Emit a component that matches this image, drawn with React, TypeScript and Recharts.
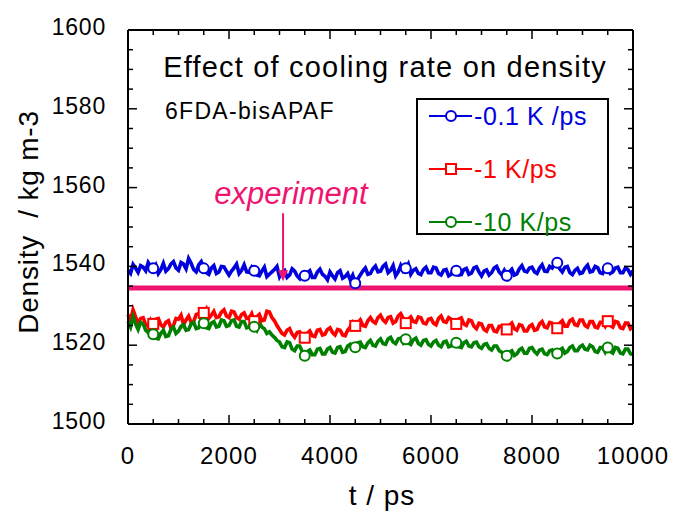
import { LineChart, Line, XAxis, YAxis, ReferenceLine, Legend, Customized } from "recharts";

const FONT = "'Liberation Sans', Arial, Helvetica, sans-serif";
const BLUE = "#0000dd";
const RED = "#ff0000";
const GREEN = "#008000";
const PINK = "#ef1470";

// t / ps, sampled every 50 ps
const TIME = [
	0, 50, 100, 150, 200, 250, 300, 350, 400, 450, 500, 550, 600, 650, 700, 750, 800, 850, 900, 950,
	1000, 1050, 1100, 1150, 1200, 1250, 1300, 1350, 1400, 1450, 1500, 1550, 1600, 1650, 1700, 1750, 1800, 1850, 1900, 1950,
	2000, 2050, 2100, 2150, 2200, 2250, 2300, 2350, 2400, 2450, 2500, 2550, 2600, 2650, 2700, 2750, 2800, 2850, 2900, 2950,
	3000, 3050, 3100, 3150, 3200, 3250, 3300, 3350, 3400, 3450, 3500, 3550, 3600, 3650, 3700, 3750, 3800, 3850, 3900, 3950,
	4000, 4050, 4100, 4150, 4200, 4250, 4300, 4350, 4400, 4450, 4500, 4550, 4600, 4650, 4700, 4750, 4800, 4850, 4900, 4950,
	5000, 5050, 5100, 5150, 5200, 5250, 5300, 5350, 5400, 5450, 5500, 5550, 5600, 5650, 5700, 5750, 5800, 5850, 5900, 5950,
	6000, 6050, 6100, 6150, 6200, 6250, 6300, 6350, 6400, 6450, 6500, 6550, 6600, 6650, 6700, 6750, 6800, 6850, 6900, 6950,
	7000, 7050, 7100, 7150, 7200, 7250, 7300, 7350, 7400, 7450, 7500, 7550, 7600, 7650, 7700, 7750, 7800, 7850, 7900, 7950,
	8000, 8050, 8100, 8150, 8200, 8250, 8300, 8350, 8400, 8450, 8500, 8550, 8600, 8650, 8700, 8750, 8800, 8850, 8900, 8950,
	9000, 9050, 9100, 9150, 9200, 9250, 9300, 9350, 9400, 9450, 9500, 9550, 9600, 9650, 9700, 9750, 9800, 9850, 9900, 9950,
	10000,
];

// -0.1 K/ps
const RATE_01 = [
	1539.0, 1538.2, 1540.5, 1539.6, 1538.5, 1540.2, 1539.8, 1538.9, 1541.0, 1540.0,
	1539.5, 1540.4, 1538.2, 1539.2, 1540.8, 1538.8, 1539.4, 1540.6, 1541.2, 1539.6,
	1539.0, 1541.0, 1540.6, 1539.4, 1542.0, 1540.8, 1539.2, 1538.6, 1540.4, 1541.2,
	1539.5, 1538.4, 1538.0, 1539.6, 1540.2, 1538.2, 1538.6, 1540.0, 1539.9, 1538.8,
	1537.8, 1538.8, 1539.6, 1540.6, 1538.2, 1539.0, 1540.4, 1538.6, 1538.5, 1539.8,
	1538.9, 1537.8, 1537.6, 1538.8, 1539.8, 1537.4, 1538.0, 1538.6, 1539.2, 1540.0,
	1537.4, 1538.6, 1539.0, 1537.2, 1537.8, 1539.4, 1538.8, 1537.6, 1536.9, 1538.2,
	1537.6, 1538.4, 1538.9, 1537.2, 1537.2, 1538.6, 1539.3, 1538.0, 1537.5, 1536.6,
	1538.6, 1537.6, 1536.8, 1538.4, 1538.9, 1537.0, 1537.4, 1538.2, 1536.6, 1537.8,
	1535.7, 1536.8, 1537.8, 1538.8, 1539.6, 1538.0, 1538.2, 1539.4, 1540.1, 1538.6,
	1538.8, 1540.0, 1540.6, 1538.4, 1539.0, 1540.2, 1537.6, 1538.6, 1540.2, 1538.8,
	1539.5, 1540.6, 1538.0, 1539.0, 1539.4, 1538.2, 1537.9, 1539.2, 1539.8, 1538.4,
	1538.4, 1539.8, 1539.6, 1538.2, 1537.8, 1539.0, 1539.2, 1537.6, 1538.0, 1539.4,
	1538.9, 1537.8, 1537.9, 1539.2, 1539.5, 1538.0, 1538.3, 1539.6, 1539.9, 1538.6,
	1537.6, 1538.8, 1539.1, 1537.8, 1538.4, 1539.6, 1540.0, 1538.6, 1537.9, 1539.0,
	1537.6, 1538.6, 1539.3, 1537.8, 1538.1, 1539.4, 1540.2, 1538.8, 1538.6, 1539.6,
	1539.8, 1538.6, 1538.2, 1539.6, 1540.4, 1538.8, 1538.7, 1540.0, 1539.6, 1540.6,
	1540.9, 1539.4, 1538.6, 1539.8, 1540.0, 1538.4, 1537.9, 1539.0, 1539.5, 1538.2,
	1538.4, 1539.6, 1540.3, 1538.6, 1538.8, 1540.0, 1539.7, 1538.4, 1538.2, 1539.4,
	1539.5, 1538.2, 1538.6, 1539.6, 1539.8, 1538.4, 1538.4, 1539.6, 1539.2, 1538.0,
	1538.9,
];

// -1 K/ps
const RATE_1 = [
	1527.8, 1526.4, 1529.0, 1527.2, 1525.6, 1526.8, 1527.0, 1525.2, 1524.8, 1526.4,
	1525.4, 1526.6, 1526.8, 1525.2, 1524.6, 1525.8, 1526.2, 1524.4, 1525.0, 1526.8,
	1526.6, 1527.6, 1525.2, 1526.4, 1527.4, 1525.8, 1526.0, 1527.8, 1528.0, 1526.6,
	1528.2, 1529.2, 1526.8, 1527.6, 1528.6, 1527.0, 1527.2, 1528.4, 1529.0, 1527.4,
	1527.0, 1528.6, 1528.4, 1527.0, 1526.6, 1527.8, 1528.2, 1526.8, 1526.8, 1528.0,
	1526.1, 1527.2, 1527.8, 1526.2, 1526.4, 1528.6, 1528.4, 1527.0, 1526.2, 1525.0,
	1524.0, 1523.0, 1522.6, 1523.8, 1524.2, 1522.8, 1522.0, 1523.2, 1523.4, 1522.4,
	1521.9, 1523.0, 1523.6, 1522.4, 1522.2, 1523.8, 1524.0, 1522.6, 1522.8, 1524.0,
	1524.4, 1523.2, 1522.6, 1524.0, 1523.8, 1522.6, 1522.4, 1523.8, 1524.6, 1525.8,
	1524.9, 1525.6, 1526.4, 1525.0, 1524.8, 1526.2, 1527.0, 1526.0, 1525.6, 1527.0,
	1527.6, 1526.4, 1525.8, 1527.0, 1527.2, 1525.6, 1526.0, 1527.4, 1528.0, 1526.8,
	1525.6, 1526.6, 1527.2, 1526.0, 1525.8, 1527.2, 1527.0, 1525.6, 1525.4, 1526.6,
	1526.8, 1525.6, 1525.2, 1526.8, 1527.4, 1526.0, 1525.8, 1527.0, 1526.6, 1525.2,
	1525.4, 1526.6, 1526.9, 1525.4, 1525.0, 1526.4, 1526.2, 1524.8, 1524.2, 1525.6,
	1525.4, 1524.0, 1523.6, 1525.0, 1525.0, 1523.6, 1523.4, 1524.8, 1524.8, 1523.4,
	1524.0, 1525.0, 1525.6, 1524.2, 1523.8, 1525.2, 1525.0, 1523.6, 1523.6, 1524.8,
	1525.2, 1523.8, 1524.0, 1525.4, 1526.0, 1524.6, 1524.4, 1525.8, 1525.6, 1524.2,
	1524.3, 1525.6, 1526.2, 1524.8, 1524.8, 1526.2, 1526.6, 1525.2, 1525.0, 1526.4,
	1526.4, 1525.0, 1524.6, 1526.0, 1526.0, 1524.6, 1524.4, 1525.8, 1525.8, 1524.8,
	1526.1, 1525.0, 1524.6, 1526.0, 1525.8, 1524.4, 1524.2, 1525.6, 1525.6, 1524.2,
	1524.8,
];

// -10 K/ps
const RATE_10 = [
	1526.0, 1524.6, 1527.2, 1525.4, 1524.0, 1525.8, 1525.4, 1523.8, 1523.2, 1524.0,
	1522.8, 1521.8, 1521.6, 1523.0, 1523.8, 1522.2, 1522.4, 1524.0, 1524.6, 1523.0,
	1523.6, 1524.8, 1525.2, 1523.8, 1524.0, 1525.4, 1525.8, 1524.2, 1524.4, 1525.8,
	1525.6, 1524.4, 1524.2, 1525.6, 1526.0, 1524.6, 1524.8, 1526.4, 1526.2, 1524.8,
	1525.0, 1526.2, 1526.4, 1524.8, 1524.6, 1526.0, 1526.0, 1524.4, 1524.6, 1525.8,
	1524.7, 1523.8, 1525.8, 1524.6, 1524.2, 1523.0, 1523.4, 1522.6, 1522.0, 1521.2,
	1520.8, 1519.6, 1519.4, 1520.8, 1520.6, 1519.0, 1518.6, 1519.8, 1519.8, 1518.4,
	1517.3, 1518.4, 1518.8, 1517.6, 1517.6, 1519.0, 1519.2, 1517.8, 1517.8, 1519.0,
	1519.4, 1518.2, 1518.0, 1519.4, 1519.6, 1518.2, 1518.4, 1519.8, 1520.2, 1519.0,
	1519.5, 1520.6, 1520.8, 1519.6, 1519.4, 1520.6, 1521.2, 1520.0, 1519.8, 1521.0,
	1521.6, 1520.4, 1520.2, 1521.6, 1522.0, 1520.8, 1520.4, 1521.6, 1521.8, 1520.6,
	1521.5, 1520.6, 1520.2, 1521.4, 1521.8, 1520.4, 1520.0, 1521.2, 1521.4, 1520.2,
	1519.8, 1520.8, 1521.2, 1520.0, 1519.6, 1520.8, 1521.0, 1519.6, 1519.8, 1520.8,
	1520.6, 1519.6, 1519.4, 1520.6, 1521.0, 1519.8, 1519.6, 1520.6, 1520.8, 1519.6,
	1519.2, 1520.2, 1520.4, 1519.2, 1518.8, 1519.8, 1519.8, 1518.6, 1518.2, 1517.6,
	1517.3, 1518.2, 1518.6, 1517.4, 1517.8, 1518.8, 1519.2, 1518.0, 1518.0, 1519.2,
	1519.4, 1518.4, 1517.8, 1518.8, 1519.0, 1517.8, 1517.6, 1518.6, 1518.8, 1517.6,
	1517.9, 1518.8, 1519.2, 1518.0, 1518.4, 1519.4, 1519.8, 1518.6, 1518.6, 1519.6,
	1520.0, 1519.0, 1518.8, 1520.0, 1519.6, 1518.4, 1518.2, 1519.4, 1519.4, 1518.2,
	1519.4, 1518.4, 1518.0, 1519.4, 1519.2, 1518.0, 1517.8, 1519.0, 1519.0, 1517.8,
	1517.6,
];

const EXPERIMENT = 1534.5;
const ARROW_T = 3070;
const ARROW_FROM = 1553.5;
const ARROW_TO = 1536.2;

const X_TICKS = [0, 500, 1000, 1500, 2000, 2500, 3000, 3500, 4000, 4500, 5000, 5500, 6000, 6500, 7000, 7500, 8000, 8500, 9000, 9500, 10000];
const X_MAJOR = [0, 2000, 4000, 6000, 8000, 10000];
const Y_TICKS = [1500, 1505, 1510, 1515, 1520, 1525, 1530, 1535, 1540, 1545, 1550, 1555, 1560, 1565, 1570, 1575, 1580, 1585, 1590, 1595, 1600];
const Y_MAJOR = [1500, 1520, 1540, 1560, 1580, 1600];

const SERIES = [
	{ key: "r01", name: "-0.1 K /ps", color: BLUE, marker: "circle" },
	{ key: "r1", name: "-1 K/ps", color: RED, marker: "square" },
	{ key: "r10", name: "-10 K/ps", color: GREEN, marker: "circle" },
];

const data = TIME.map((t, i) => ({ t, r01: RATE_01[i], r1: RATE_1[i], r10: RATE_10[i] }));

const Marker = ({ cx, cy, kind, color }: any) =>
	kind === "square" ? (
		<rect x={cx - 5} y={cy - 5} width={10} height={10} fill="#fff" stroke={color} strokeWidth={2} />
	) : (
		<circle cx={cx} cy={cy} r={5} fill="#fff" stroke={color} strokeWidth={2} />
	);

// markers only at 500, 1500, ... 9500
const makeDot = (s: any) => (props: any) => {
	const { cx, cy, index } = props;
	if (index % 20 !== 10) return <g key={`${s.key}-${index}`} />;
	return (
		<g key={`${s.key}-${index}`}>
			<Marker cx={cx} cy={cy} kind={s.marker} color={s.color} />
		</g>
	);
};

const BottomTick = ({ x, y, payload }: any) => {
	const major = X_MAJOR.includes(payload.value);
	return (
		<g>
			<line x1={x} x2={x} y1={y} y2={y - (major ? 9 : 5)} stroke="#000" strokeWidth={1.5} />
			{major && (
				<text x={x} y={y + 40} textAnchor="middle" fontSize={24} letterSpacing={1.2} fontFamily={FONT} fill="#000">
					{payload.value}
				</text>
			)}
		</g>
	);
};

const TopTick = ({ x, y, payload }: any) => {
	const major = X_MAJOR.includes(payload.value);
	return <line x1={x} x2={x} y1={y} y2={y + (major ? 9 : 5)} stroke="#000" strokeWidth={1.5} />;
};

const LeftTick = ({ x, y, payload }: any) => {
	const major = Y_MAJOR.includes(payload.value);
	return (
		<g>
			<line x1={x} x2={x + (major ? 9 : 5)} y1={y} y2={y} stroke="#000" strokeWidth={1.5} />
			{major && (
				<text x={x - 22} y={y + 5} textAnchor="end" fontSize={23} letterSpacing={0.8} fontFamily={FONT} fill="#000">
					{payload.value}
				</text>
			)}
		</g>
	);
};

const RightTick = ({ x, y, payload }: any) => {
	const major = Y_MAJOR.includes(payload.value);
	return <line x1={x} x2={x - (major ? 9 : 5)} y1={y} y2={y} stroke="#000" strokeWidth={1.5} />;
};

const ArrowShape = (props: any) => {
	const { x1, y1, x2, y2 } = props;
	return (
		<g>
			<line x1={x1} y1={y1} x2={x2} y2={y2 - 8} stroke={PINK} strokeWidth={2} />
			<polygon points={`${x2 - 5},${y2 - 11} ${x2 + 5},${y2 - 11} ${x2},${y2}`} fill={PINK} />
			<text x={x1 + 8} y={y1 - 9} textAnchor="middle" fontSize={31} fontStyle="italic" fontFamily={FONT} fill={PINK}>
				experiment
			</text>
		</g>
	);
};

const renderLegend = () => (
	<div
		style={{
			border: "2px solid #000",
			width: 193,
			height: 137,
			boxSizing: "border-box",
			background: "#fff",
			fontFamily: FONT,
			fontSize: 25,
			letterSpacing: 0.6,
		}}
	>
		{SERIES.map((s, i) => (
			<div key={s.key} style={{ position: "absolute", left: 12, top: 3 + i * 53, height: 30, display: "flex", alignItems: "center", color: s.color }}>
				<svg width={46} height={30} style={{ display: "block" }}>
					<line x1={1} x2={44} y1={15} y2={15} stroke={s.color} strokeWidth={2} />
					<Marker cx={23} cy={15} kind={s.marker} color={s.color} />
				</svg>
				<span style={{ marginLeft: 0, lineHeight: "30px" }}>{s.name}</span>
			</div>
		))}
	</div>
);

const Texts = () => (
	<g fontFamily={FONT} fill="#000">
		<text x={385} y={77} textAnchor="middle" fontSize={29} letterSpacing={1.2}>
			Effect of cooling rate on density
		</text>
		<text x={165} y={119} fontSize={23} letterSpacing={1.3}>
			6FDA-bisAPAF
		</text>
		<text x={382} y={505} textAnchor="middle" fontSize={28} letterSpacing={1}>
			t / ps
		</text>
		<text x={38} y={222} textAnchor="middle" fontSize={28} letterSpacing={0.8} transform="rotate(-90 38 222)">
			Density&#160; / kg m-3
		</text>
	</g>
);

export default function App() {
	return (
		<div style={{ position: "absolute", left: 0, top: 0, width: 674, height: 512, background: "#fff" }}>
			<LineChart width={674} height={512} data={data} margin={{ top: 29, right: 40, bottom: 0, left: 0 }}>
				<XAxis
					dataKey="t"
					type="number"
					domain={[0, 10000]}
					ticks={X_TICKS}
					interval={0}
					height={88}
					tickSize={0}
					tickMargin={0}
					tick={<BottomTick />}
					axisLine={{ stroke: "#000", strokeWidth: 2 }}
				/>
				<XAxis
					xAxisId="top"
					orientation="top"
					dataKey="t"
					type="number"
					domain={[0, 10000]}
					ticks={X_TICKS}
					interval={0}
					height={1}
					tickSize={0}
					tickMargin={0}
					tick={<TopTick />}
					axisLine={{ stroke: "#000", strokeWidth: 2 }}
				/>
				<YAxis
					type="number"
					domain={[1500, 1600]}
					ticks={Y_TICKS}
					interval={0}
					width={128}
					tickSize={0}
					tickMargin={0}
					tick={<LeftTick />}
					axisLine={{ stroke: "#000", strokeWidth: 2 }}
					allowDataOverflow
				/>
				<YAxis
					yAxisId="right"
					orientation="right"
					type="number"
					domain={[1500, 1600]}
					ticks={Y_TICKS}
					interval={0}
					width={1}
					tickSize={0}
					tickMargin={0}
					tick={<RightTick />}
					axisLine={{ stroke: "#000", strokeWidth: 2 }}
					allowDataOverflow
				/>
				<ReferenceLine y={EXPERIMENT} stroke={PINK} strokeWidth={5} />
				{SERIES.map((s) => (
					<Line
						key={s.key}
						dataKey={s.key}
						name={s.name}
						type="linear"
						stroke={s.color}
						strokeWidth={3.6}
						strokeLinejoin="miter"
						dot={makeDot(s)}
						activeDot={false}
						isAnimationActive={false}
					/>
				))}
				<ReferenceLine
					segment={[
						{ x: ARROW_T, y: ARROW_FROM },
						{ x: ARROW_T, y: ARROW_TO },
					]}
					ifOverflow="visible"
					shape={<ArrowShape />}
				/>
				<Legend
					layout="horizontal"
					verticalAlign="middle"
					align="center"
					content={renderLegend}
					wrapperStyle={{ left: 416, top: 98, width: 193, height: 137 }}
				/>
				<Customized component={<Texts />} />
			</LineChart>
		</div>
	);
}
